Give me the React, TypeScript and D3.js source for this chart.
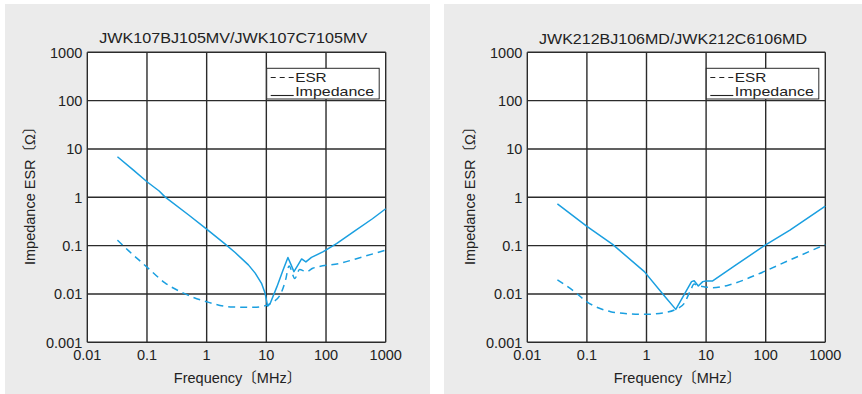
import React from "react";
import * as d3 from "d3";

// ---- data ----
const xTickValues = [0.01, 0.1, 1, 10, 100, 1000];
const xTickLabels = ["0.01", "0.1", "1", "10", "100", "1000"];
const yTickValues = [0.001, 0.01, 0.1, 1, 10, 100, 1000];
const yTickLabels = ["0.001", "0.01", "0.1", "1", "10", "100", "1000"];

const titles = ["JWK107BJ105MV/JWK107C7105MV", "JWK212BJ106MD/JWK212C6106MD"];
const legendLabels = ["ESR", "Impedance"];
const xAxisTitle = "Frequency〔MHz〕";
const yAxisTitle = "Impedance ESR〔Ω〕";

// Left chart
const leftImpFreq = [0.032, 0.06, 0.1, 0.16, 0.2, 0.5, 1, 2, 3, 5, 6.5, 8.3, 9.5, 10.5, 11.5, 15, 19, 23, 26, 29, 34, 39, 46, 57, 90, 150, 300, 600, 1000];
const leftImp = [6.9, 3.6, 2.1, 1.35, 1.02, 0.43, 0.22, 0.11, 0.072, 0.04, 0.027, 0.0166, 0.0105, 0.0056, 0.0062, 0.014, 0.031, 0.057, 0.04, 0.029, 0.04, 0.053, 0.046, 0.057, 0.075, 0.11, 0.2, 0.36, 0.58];
const leftEsrFreq = [0.032, 0.05, 0.1, 0.2, 0.4, 1, 2.5, 6, 10, 12, 17, 21, 24, 30, 36, 47, 60, 170, 400, 1000];
const leftEsr = [0.13, 0.077, 0.036, 0.017, 0.0105, 0.0069, 0.0054, 0.0053, 0.0058, 0.0065, 0.0095, 0.0195, 0.038, 0.021, 0.032, 0.029, 0.034, 0.043, 0.058, 0.081];

// Right chart
const rightImpFreq = [0.032, 0.1, 0.27, 0.92, 2, 3.1, 4.1, 5.7, 6.3, 7.4, 8.8, 10, 12.9, 30, 95, 255, 1000];
const rightImp = [0.73, 0.25, 0.106, 0.029, 0.0091, 0.0048, 0.0088, 0.018, 0.0188, 0.0146, 0.018, 0.0185, 0.0186, 0.038, 0.1, 0.21, 0.66];
const rightEsrFreq = [0.032, 0.06, 0.1, 0.25, 0.5, 1, 2, 3.1, 4.3, 5.5, 6.3, 7.2, 9.5, 13, 25, 70, 250, 1000];
const rightEsr = [0.0195, 0.0115, 0.0069, 0.0043, 0.0039, 0.0038, 0.0041, 0.0048, 0.0064, 0.012, 0.016, 0.015, 0.014, 0.0135, 0.0155, 0.025, 0.05, 0.105];

const FONT = "'Liberation Sans', Arial, 'Noto Sans CJK JP', sans-serif";
const CURVE = "#1a9fe0";
const GRID = "#2b2b2b";

type PanelProps = {
  panelX: number;
  panelW: number;
  plotX0: number;
  plotX1: number;
  title: string;
  titleY: number;
  impF: number[];
  imp: number[];
  esrF: number[];
  esr: number[];
};

function Panel(p: PanelProps) {
  const y0 = 52.3;
  const y1 = 342.3;
  const x = d3.scaleLog().domain([0.01, 1000]).range([p.plotX0, p.plotX1]);
  const y = d3.scaleLog().domain([0.001, 1000]).range([y1, y0]);
  const line = d3
    .line<[number, number]>()
    .x((d) => x(d[0]))
    .y((d) => y(d[1]));
  const smooth = d3
    .line<[number, number]>()
    .x((d) => x(d[0]))
    .y((d) => y(d[1]))
    .curve(d3.curveMonotoneX);
  const impPts = p.impF.map((f, i) => [f, p.imp[i]] as [number, number]);
  const esrPts = p.esrF.map((f, i) => [f, p.esr[i]] as [number, number]);
  const cx = (p.plotX0 + p.plotX1) / 2;
  const lgX0 = p.plotX1 - 119;
  const lgX1 = p.plotX1 - 6.5;
  return (
    <g>
      <rect x={p.panelX} y={4} width={p.panelW} height={390} fill="#ebebeb" />
      <rect x={p.plotX0} y={y0} width={p.plotX1 - p.plotX0} height={y1 - y0} fill="#fff" />
      {xTickValues.map((t) => (
        <line key={"gx" + t} x1={x(t)} x2={x(t)} y1={y0} y2={y1} stroke={GRID} strokeWidth={1.4} />
      ))}
      {yTickValues.map((t) => (
        <line key={"gy" + t} x1={p.plotX0} x2={p.plotX1} y1={y(t)} y2={y(t)} stroke={GRID} strokeWidth={1.4} />
      ))}
      {xTickValues.map((t, i) => (
        <text key={"tx" + t} x={x(t)} y={360} textAnchor="middle" fontSize={14.5} fontFamily={FONT} fill="#222">
          {xTickLabels[i]}
        </text>
      ))}
      {yTickValues.map((t, i) => (
        <text key={"ty" + t} x={p.plotX0 - 5} y={y(t) + 5.2} textAnchor="end" fontSize={14.5} fontFamily={FONT} fill="#222">
          {yTickLabels[i]}
        </text>
      ))}
      <text x={cx - 3.3} y={p.titleY} textAnchor="middle" fontSize={14.5} fontFamily={FONT} fill="#222" textLength={268} lengthAdjust="spacingAndGlyphs">
        {p.title}
      </text>
      <text x={cx + 1} y={382.7} textAnchor="middle" fontSize={14.5} fontFamily={FONT} fill="#222">
        {xAxisTitle}
      </text>
      <text
        transform={`translate(${p.plotX0 - 52},${y0 + 140}) rotate(-90)`}
        textAnchor="middle"
        fontSize={14.5}
        fontFamily={FONT}
        fill="#222"
      >
        {yAxisTitle}
      </text>
      {/* legend */}
      <rect x={lgX0} y={68.3} width={lgX1 - lgX0} height={30.7} fill="#fff" stroke={GRID} strokeWidth={1} />
      <line x1={lgX0 + 4} x2={lgX0 + 27} y1={77.5} y2={77.5} stroke="#222" strokeWidth={1.1} strokeDasharray="5,4" />
      <line x1={lgX0 + 4} x2={lgX0 + 27} y1={95.5} y2={95.5} stroke="#222" strokeWidth={1.1} />
      <text x={lgX0 + 28.5} y={82.2} fontSize={12.8} fontFamily={FONT} fill="#222" textLength={31.5} lengthAdjust="spacingAndGlyphs">
        {legendLabels[0]}
      </text>
      <text x={lgX0 + 28.5} y={96.3} fontSize={12.8} fontFamily={FONT} fill="#222" textLength={79} lengthAdjust="spacingAndGlyphs">
        {legendLabels[1]}
      </text>
      {/* curves */}
      <path d={smooth(esrPts) || ""} fill="none" stroke={CURVE} strokeWidth={1.5} strokeDasharray="7,5" />
      <path d={line(impPts) || ""} fill="none" stroke={CURVE} strokeWidth={1.5} strokeLinejoin="round" />
    </g>
  );
}

export default function App() {
  return (
    <svg width={862} height={394} style={{ position: "absolute", left: 0, top: 0, background: "#fff" }}>
      <Panel
        panelX={5}
        panelW={425}
        plotX0={87.3}
        plotX1={385.7}
        title={titles[0]}
        titleY={42.7}
        impF={leftImpFreq}
        imp={leftImp}
        esrF={leftEsrFreq}
        esr={leftEsr}
      />
      <Panel
        panelX={444}
        panelW={418}
        plotX0={527.3}
        plotX1={825.3}
        title={titles[1]}
        titleY={44}
        impF={rightImpFreq}
        imp={rightImp}
        esrF={rightEsrFreq}
        esr={rightEsr}
      />
    </svg>
  );
}
